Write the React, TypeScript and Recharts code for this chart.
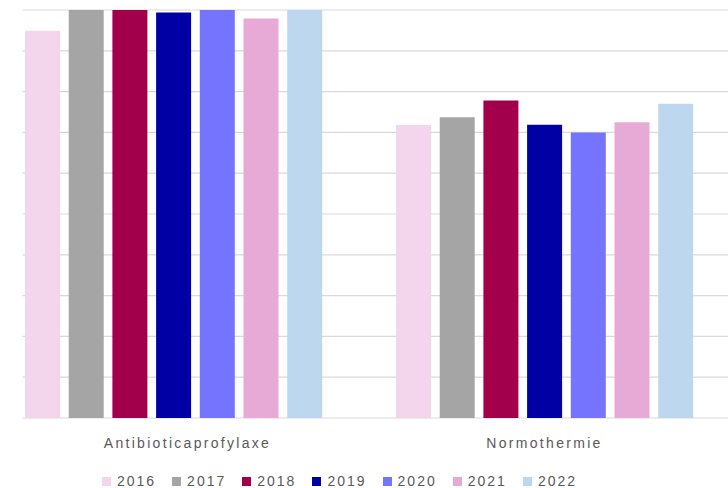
import React from "react"
import { Bar, BarChart, CartesianGrid, Legend, XAxis, YAxis } from "recharts"

const categories = ["Antibioticaprofylaxe", "Normothermie"]
const years = ["2016", "2017", "2018", "2019", "2020", "2021", "2022"]
const values2016 = [94.9, 71.8]
const values2017 = [100, 73.7]
const values2018 = [100, 77.8]
const values2019 = [99.4, 71.9]
const values2020 = [100, 70.0]
const values2021 = [97.9, 72.5]
const values2022 = [100, 77.0]
const yTicks = [0, 10, 20, 30, 40, 50, 60, 70, 80, 90, 100]

const seriesValues = [values2016, values2017, values2018, values2019, values2020, values2021, values2022]
const colors = ["#f3d5ec", "#a5a5a5", "#a3004c", "#0000a5", "#7474ff", "#e7aad7", "#bdd7ee"]

const chartData = categories.map((name, i) => {
    const row: Record<string, string | number> = { name }
    years.forEach((year, s) => {
        row[year] = seriesValues[s][i]
    })
    return row
})

const textColor = "#595959"
const fontFamily = "'Liberation Sans', Arial, sans-serif"

const renderTick = (props: any) => {
    const { x, y, payload } = props
    // the first label sits a bit right of its group in the original
    const dx = payload.index === 0 ? 14 : 0
    return (
        <text
            x={x + dx}
            y={y + 30}
            textAnchor="middle"
            fill={textColor}
            fontSize={14}
            fontFamily={fontFamily}
            letterSpacing={2.3}
        >
            {payload.value}
        </text>
    )
}

const renderLegend = () => (
    <div
        style={{
            display: "flex",
            justifyContent: "center",
            alignItems: "center",
            height: 20,
            paddingRight: 38,
            fontFamily,
            fontSize: 14,
            color: textColor,
            letterSpacing: 2
        }}
    >
        {years.map((year, i) => (
            <div key={year} style={{ display: "flex", alignItems: "center", marginRight: i < years.length - 1 ? 16 : 0 }}>
                <span style={{ width: 9, height: 9, background: colors[i], marginRight: 6, display: "inline-block" }} />
                <span>{year}</span>
            </div>
        ))}
    </div>
)

export default function App() {
    return (
        <div style={{ position: "absolute", left: 0, top: 0, width: 728, height: 488, overflow: "hidden", background: "#fff" }}>
            <div style={{ position: "absolute", left: -12.5, top: 0 }}>
                <BarChart
                    width={742}
                    height={488}
                    data={chartData}
                    margin={{ top: 10, right: 0, bottom: 0, left: 0 }}
                    barSize={35}
                    barGap={8.7}
                >
                    <CartesianGrid x={34.5} width={720} vertical={false} stroke="#d9d9d9" strokeWidth={1.2} />
                    <XAxis
                        dataKey="name"
                        axisLine={false}
                        tickLine={false}
                        tickSize={0}
                        tickMargin={0}
                        height={50}
                        interval={0}
                        tick={renderTick}
                    />
                    <YAxis hide domain={[0, 100]} ticks={yTicks} />
                    <Legend content={renderLegend} verticalAlign="bottom" wrapperStyle={{ bottom: -3 }} />
                    {years.map((year, i) => (
                        <Bar key={year} dataKey={year} fill={colors[i]} isAnimationActive={false} />
                    ))}
                </BarChart>
            </div>
        </div>
    )
}
